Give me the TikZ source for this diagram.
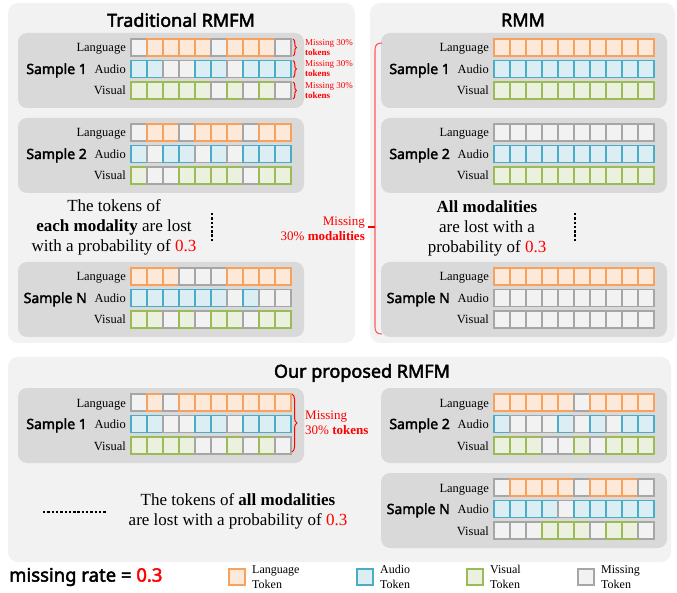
\documentclass[tikz,border=0pt]{standalone}
\usepackage{fontspec}
\setmainfont{Liberation Serif}
\newfontfamily\sansfont{Noto Sans}[AutoFakeBold=2.5]
\usetikzlibrary{decorations.pathreplacing}
\definecolor{panelbg}{HTML}{F2F2F2}
\definecolor{sboxbg}{HTML}{D9D9D9}
\definecolor{langD}{HTML}{F6A15E}
\definecolor{langF}{HTML}{FDE9DA}
\definecolor{audD}{HTML}{4BACC6}
\definecolor{audF}{HTML}{DAEEF3}
\definecolor{visD}{HTML}{9BBB59}
\definecolor{visF}{HTML}{EBF1DE}
\definecolor{missD}{HTML}{A6A6A6}
\definecolor{missF}{HTML}{F2F2F2}
\definecolor{myred}{HTML}{FF0000}
\definecolor{lightred}{HTML}{FF5B5B}
\tikzset{
  panel/.style={fill=panelbg, rounded corners=10pt, inner sep=0pt},
  sbox/.style={fill=sboxbg, rounded corners=9pt, inner sep=0pt, minimum width=286pt, minimum height=75pt},
  cell/.style={draw, minimum width=16pt, minimum height=17pt, inner sep=0pt, line width=1.1pt},
  lang/.style={draw=langD, fill=langF},
  aud/.style={draw=audD, fill=audF},
  vis/.style={draw=visD, fill=visF},
  miss/.style={draw=missD, fill=missF},
  lab/.style={anchor=east, inner sep=0pt, text height=9pt, text depth=0pt, font=\fontsize{12.5}{14}\selectfont},
  samp/.style={anchor=east, inner sep=0pt, text height=10pt, text depth=0pt, font=\sansfont\bfseries\fontsize{14}{16}\selectfont},
  ttl/.style={inner sep=0pt, font=\sansfont\bfseries\fontsize{18}{20}\selectfont},
  body/.style={inner sep=0pt, align=center, font=\fontsize{17}{20}\selectfont},
  ann/.style={anchor=west, inner sep=0pt, align=left, text=myred, font=\fontsize{9}{10}\selectfont},
  smallbrace/.style={draw=myred, line width=1pt, decorate, decoration={brace, amplitude=3.5pt}},
  dots/.style={line width=2.8pt, dash pattern=on 2.4pt off 1.9pt},
  legsq/.style={draw, minimum width=16pt, minimum height=16pt, inner sep=0pt, line width=1.1pt},
  legtxt/.style={anchor=west, inner sep=0pt, align=left, font=\fontsize{12}{15}\selectfont},
}
\newcommand\tokrow[5]{%
  \foreach \v [count=\i from 0] in {#5} {%
    \ifnum\v=1 \node[cell,#4] (#1-\i) at ({#2+8+16*\i},{#3}) {};%
    \else \node[cell,miss] (#1-\i) at ({#2+8+16*\i},{#3}) {};\fi
  }}
% #1 name, #2 cell-left x, #3 box top y, #4 label, #5 lang, #6 audio, #7 visual
\newcommand\samplebox[7]{%
  \node[sbox] (#1) at ({#2+30},{#3+37.5}) {};
  \tokrow{#1L}{#2}{#3+14.5}{lang}{#5}
  \tokrow{#1A}{#2}{#3+36}{aud}{#6}
  \tokrow{#1V}{#2}{#3+57.5}{vis}{#7}
  \node[lab] (#1-ll) at ({#2-5},{#3+14.5}) {Language};
  \node[lab] (#1-al) at ({#2-5},{#3+36}) {Audio};
  \node[lab] (#1-vl) at ({#2-5},{#3+57.5}) {Visual};
  \node[samp] (#1-sl) at ({#2-44},{#3+36}) {#4};
}
\begin{document}
\begin{tikzpicture}[x=1pt,y=-1pt]
\useasboundingbox (0,0) rectangle (677,593);
% panels
\node[panel, minimum width=347pt, minimum height=340pt] (p1) at (181.5,173) {};
\node[panel, minimum width=305pt, minimum height=340pt] (p2) at (522.5,173) {};
\node[panel, minimum width=663pt, minimum height=205pt] (p3) at (339.5,459.5) {};
% titles
\node[ttl] (t1) at (181,20) {Traditional RMFM};
\node[ttl] (t2) at (523,20) {RMM};
\node[ttl] (t3) at (362,373) {Our proposed RMFM};
% Traditional RMFM
\samplebox{a1}{131}{33}{Sample 1}{0,1,1,1,1,0,1,1,1,0}{1,1,0,0,1,1,0,1,1,1}{1,1,1,1,1,0,1,0,1,0}
\samplebox{a2}{131}{118}{Sample 2}{0,1,1,0,1,1,1,0,1,1}{1,0,1,1,0,1,0,1,1,1}{1,0,0,1,1,1,1,0,1,1}
\samplebox{aN}{131}{262}{Sample N}{1,1,1,0,0,0,1,1,1,1}{1,1,1,1,1,1,0,1,0,0}{1,1,0,1,0,1,1,0,1,1}
% small braces + annotations
\foreach \yc/\nm in {47.5/b1,69/b2,90.5/b3}{
  \coordinate (\nm-top) at (293,\yc-8.5);
  \coordinate (\nm-bot) at (293,\yc+8.5);
  \draw[smallbrace] (\nm-top) -- (\nm-bot);
  \node[ann] (\nm-t) at (305,\yc) {Missing 30\%\\\textbf{tokens}};
}
\node[body] (txa) at (114,227) {The tokens of\\\textbf{each modality} are lost\\with a probability of \textcolor{myred}{0.3}};
\coordinate (da1) at (212,213);
\coordinate (da2) at (212,243);
\draw[dots] (da1) -- (da2);
% RMM
\samplebox{r1}{494}{33}{Sample 1}{1,1,1,1,1,1,1,1,1,1}{1,1,1,1,1,1,1,1,1,1}{1,1,1,1,1,1,1,1,1,1}
\samplebox{r2}{494}{118}{Sample 2}{0,0,0,0,0,0,0,0,0,0}{1,1,1,1,1,1,1,1,1,1}{1,1,1,1,1,1,1,1,1,1}
\samplebox{rN}{494}{262}{Sample N}{1,1,1,1,1,1,1,1,1,1}{0,0,0,0,0,0,0,0,0,0}{0,0,0,0,0,0,0,0,0,0}
\node[body] (txr) at (487,228) {\textbf{All modalities}\\are lost with a\\probability of \textcolor{myred}{0.3}};
\coordinate (dr1) at (575,213);
\coordinate (dr2) at (575,243);
\draw[dots] (dr1) -- (dr2);
\coordinate (bb1) at (382,43);
\coordinate (bb2) at (382,334);
\coordinate (bbm) at (375,227);
\coordinate (bbt) at (368,227);
\draw[lightred, line width=1.1pt] (bb1) .. controls (377,43) and (375,45) .. (375,50) -- (375,327) .. controls (375,332) and (377,334) .. (bb2);
\draw[myred, line width=1.1pt] (bbm) -- (bbt);
\node[anchor=east, inner sep=0pt, align=right, text=myred, font=\fontsize{13}{15}\selectfont] (mm) at (365,229) {Missing\\30\% \textbf{modalities}};
% Our proposed RMFM
\samplebox{c1}{131}{388}{Sample 1}{0,1,0,1,1,1,1,1,1,1}{1,1,0,0,1,1,0,1,1,1}{1,1,1,1,0,0,1,0,1,0}
\samplebox{c2}{494}{388}{Sample 2}{1,1,1,1,1,0,1,1,1,1}{1,0,0,0,1,0,1,0,1,1}{1,1,1,0,0,1,0,1,1,1}
\samplebox{cN}{494}{473}{Sample N}{0,1,1,1,1,0,1,1,1,0}{1,1,1,1,0,1,1,1,1,1}{0,0,0,1,1,1,0,1,1,0}
\coordinate (cb1) at (292,394);
\coordinate (cb2) at (292,452);
\draw[draw=myred, line width=1pt, decorate, decoration={brace, amplitude=5pt}] (cb1) -- (cb2);
\node[anchor=west, inner sep=0pt, align=left, text=myred, font=\fontsize{13}{15}\selectfont] (ct) at (305,423) {Missing\\30\% \textbf{tokens}};
\node[body] (txc) at (238,511.5) {The tokens of \textbf{all modalities}\\are lost with a probability of \textcolor{myred}{0.3}};
\coordinate (dc1) at (43,512);
\coordinate (dc2) at (106,512);
\draw[dots] (dc1) -- (dc2);
% legend
\node[anchor=west, inner sep=0pt, font=\sansfont\bfseries\fontsize{18.5}{20}\selectfont] (mr) at (9,577) {missing rate = \textcolor{myred}{0.3}};
\node[legsq, lang] (lg1) at (237,577) {};
\node[legtxt] (lt1) at (252,577) {Language\\Token};
\node[legsq, aud] (lg2) at (365,577) {};
\node[legtxt] (lt2) at (380,577) {Audio\\Token};
\node[legsq, vis] (lg3) at (475,577) {};
\node[legtxt] (lt3) at (490,577) {Visual\\Token};
\node[legsq, miss] (lg4) at (586,577) {};
\node[legtxt] (lt4) at (601,577) {Missing\\Token};
\end{tikzpicture}
\end{document}
